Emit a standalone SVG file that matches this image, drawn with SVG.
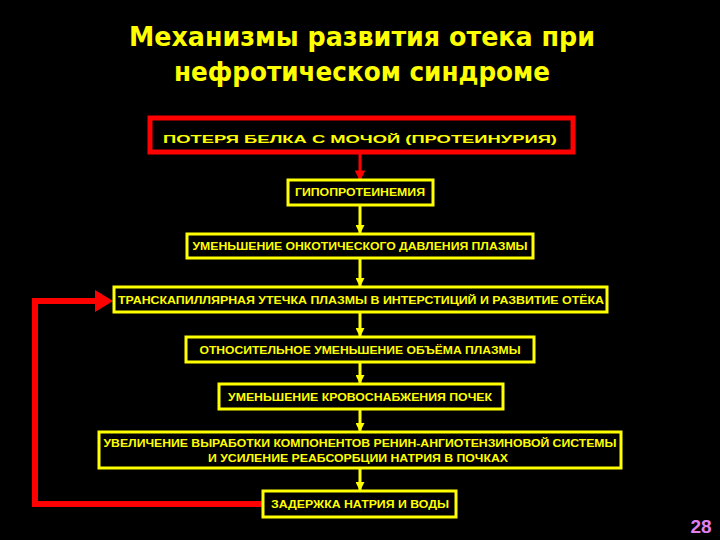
<svg xmlns="http://www.w3.org/2000/svg" width="720" height="540" viewBox="0 0 720 540">
<defs>
<style>
.t{font-family:"DejaVu Sans","Liberation Sans",sans-serif;font-weight:bold;fill:#ffff00;text-anchor:middle}
.b{fill:#000;stroke:#ffff00;stroke-width:3}
.bt{font-family:"Liberation Sans","DejaVu Sans",sans-serif;font-weight:bold;fill:#ffff00;font-size:11px;text-anchor:middle}
.ya{stroke:#ffff00;stroke-width:3;fill:none}
</style>
<marker id="ah" viewBox="0 0 10 10" refX="9" refY="5" markerWidth="4" markerHeight="3" orient="auto" markerUnits="strokeWidth">
<path d="M0,0 L10,5 L0,10 Z" fill="#ffff00"/>
</marker>
<marker id="rh" viewBox="0 0 10 10" refX="9" refY="5" markerWidth="4" markerHeight="3.5" orient="auto" markerUnits="strokeWidth">
<path d="M0,0 L10,5 L0,10 Z" fill="#ff0000"/>
</marker>
</defs>
<rect width="720" height="540" fill="#000"/>
<g id="title">
<text class="t" x="362" y="46" font-size="27" textLength="466" lengthAdjust="spacingAndGlyphs">Механизмы развития отека при</text>
<text class="t" x="362" y="81" font-size="27" textLength="376" lengthAdjust="spacingAndGlyphs">нефротическом синдроме</text>
</g>
<g id="connectors">
<line x1="360" y1="152" x2="360" y2="180" stroke="#ff0000" stroke-width="3" marker-end="url(#rh)"/>
<line class="ya" x1="360" y1="205" x2="360" y2="233" marker-end="url(#ah)"/>
<line class="ya" x1="360" y1="258" x2="360" y2="286" marker-end="url(#ah)"/>
<line class="ya" x1="360" y1="312" x2="360" y2="336" marker-end="url(#ah)"/>
<line class="ya" x1="360" y1="362" x2="360" y2="383" marker-end="url(#ah)"/>
<line class="ya" x1="360" y1="409" x2="360" y2="431" marker-end="url(#ah)"/>
<line class="ya" x1="360" y1="468" x2="360" y2="490" marker-end="url(#ah)"/>
<polyline points="263,504 35,504 35,301 97,301" fill="none" stroke="#ff0000" stroke-width="6"/>
<polygon points="95,290 113,301 95,312" fill="#ff0000"/>
</g>
<g id="n1">
<rect x="150" y="118" width="423" height="34" fill="#000" stroke="#ff0000" stroke-width="5"/>
<text class="bt" x="360" y="143" font-size="16" textLength="394" lengthAdjust="spacingAndGlyphs">ПОТЕРЯ БЕЛКА С МОЧОЙ (ПРОТЕИНУРИЯ)</text>
</g>
<g id="n2">
<rect class="b" x="288" y="180" width="145" height="25"/>
<text class="bt" x="360" y="196" textLength="130" lengthAdjust="spacingAndGlyphs">ГИПОПРОТЕИНЕМИЯ</text>
</g>
<g id="n3">
<rect class="b" x="187" y="234" width="346" height="24"/>
<text class="bt" x="360" y="250" textLength="335" lengthAdjust="spacingAndGlyphs">УМЕНЬШЕНИЕ ОНКОТИЧЕСКОГО ДАВЛЕНИЯ ПЛАЗМЫ</text>
</g>
<g id="n4">
<rect class="b" x="114" y="287" width="493" height="25"/>
<text class="bt" x="361" y="304" textLength="486" lengthAdjust="spacingAndGlyphs">ТРАНСКАПИЛЛЯРНАЯ УТЕЧКА ПЛАЗМЫ В ИНТЕРСТИЦИЙ И РАЗВИТИЕ ОТЁКА</text>
</g>
<g id="n5">
<rect class="b" x="186" y="337" width="348" height="25"/>
<text class="bt" x="360" y="354" textLength="321" lengthAdjust="spacingAndGlyphs">ОТНОСИТЕЛЬНОЕ УМЕНЬШЕНИЕ ОБЪЁМА ПЛАЗМЫ</text>
</g>
<g id="n6">
<rect class="b" x="219" y="384" width="284" height="25"/>
<text class="bt" x="360" y="401" textLength="264" lengthAdjust="spacingAndGlyphs">УМЕНЬШЕНИЕ КРОВОСНАБЖЕНИЯ ПОЧЕК</text>
</g>
<g id="n7">
<rect class="b" x="99" y="432" width="522" height="36"/>
<text class="bt" x="360" y="447" textLength="513" lengthAdjust="spacingAndGlyphs">УВЕЛИЧЕНИЕ ВЫРАБОТКИ КОМПОНЕНТОВ РЕНИН-АНГИОТЕНЗИНОВОЙ СИСТЕМЫ</text>
<text class="bt" x="358" y="462" textLength="300" lengthAdjust="spacingAndGlyphs">И УСИЛЕНИЕ РЕАБСОРБЦИИ НАТРИЯ В ПОЧКАХ</text>
</g>
<g id="n8">
<rect class="b" x="263" y="491" width="193" height="26"/>
<text class="bt" x="360" y="508" textLength="178" lengthAdjust="spacingAndGlyphs">ЗАДЕРЖКА НАТРИЯ И ВОДЫ</text>
</g>
<g id="page">
<text x="701" y="533" font-family="'Liberation Sans',sans-serif" font-weight="bold" font-size="19" fill="#e080f0" text-anchor="middle">28</text>
</g>
</svg>
